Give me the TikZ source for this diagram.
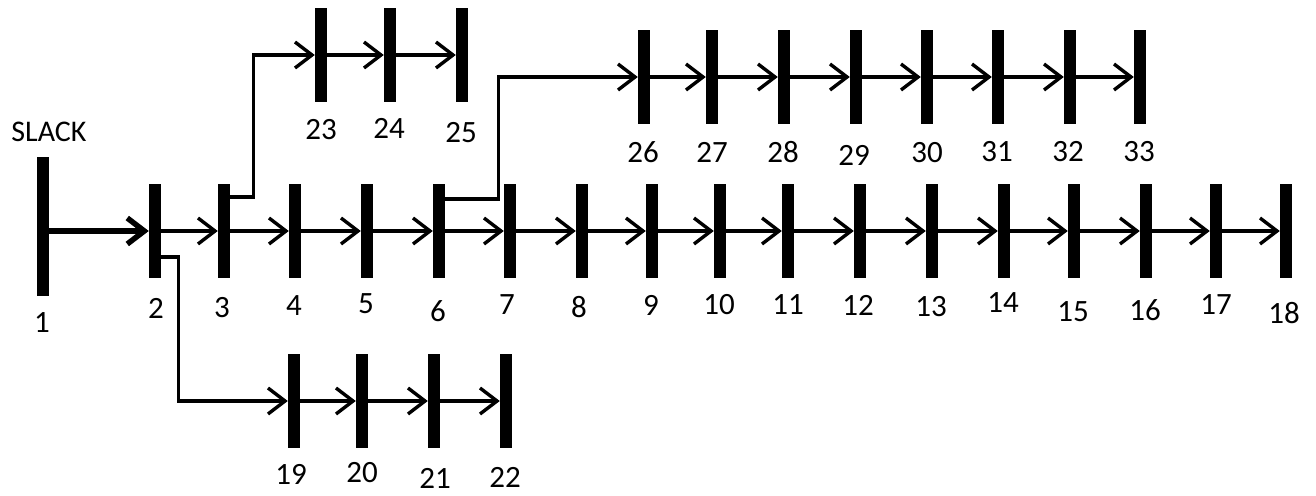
\documentclass[tikz,border=0pt]{standalone}
\usepackage{fontspec}
\setmainfont{Carlito}
\usetikzlibrary{arrows.meta}
\begin{document}
\begin{tikzpicture}[
    x=1pt, y=-1pt,
    bus/.style={fill=black, inner sep=0pt, minimum width=12pt, minimum height=94pt},
    num/.style={inner sep=0pt, font=\fontsize{31}{31}\selectfont},
    flow/.style={line width=3.4pt, -{Straight Barb[length=17pt,width=26pt]}},
    feeder/.style={flow, line join=miter}
  ]
  \useasboundingbox (0,0) rectangle (1316,495);
  % Slack bus
  \node[bus, minimum height=139pt] (b1) at (43,226) {};
  \node[num, font=\fontsize{30}{30}\selectfont] (slack) at (49,132) {SLACK};
  % Main feeder
  \foreach \n/\x in {2/155,3/224,4/295,5/367,6/439,7/510,8/582,9/652,10/720,
                     11/788,12/860,13/932,14/1004,15/1074,16/1146,17/1216,18/1286}
    \node[bus] (b\n) at (\x,231) {};
  % Laterals
  \foreach \n/\x in {19/294,20/362,21/434,22/506}
    \node[bus] (b\n) at (\x,401) {};
  \foreach \n/\x in {23/321,24/390,25/462}
    \node[bus] (b\n) at (\x,55) {};
  \foreach \n/\x in {26/644,27/712,28/784,29/856,30/927,31/998,32/1070,33/1140}
    \node[bus] (b\n) at (\x,77) {};
  % Bus numbers
  \foreach \n/\x/\y in {1/42/323,2/156/308,3/222/308,4/294/306,5/366/304,6/438/311,
                        7/507/305,8/579/307,9/651/305,10/719/305,11/788/305,12/858/305,
                        13/931/307,14/1003/303,15/1073/312,16/1145/310,17/1216/305,18/1284/313,
                        19/291/474,20/362/473,21/435/478,22/505/477,
                        23/321/130,24/389/128,25/461/133,
                        26/643/152,27/712/152,28/783/152,29/854/155,
                        30/927/153,31/997/152,32/1068/152,33/1139/152}
    \node[num] (l\n) at (\x,\y) {\n};
  % Lines
  \draw[flow, line width=5.5pt] (b1.east |- b2) -- (b2.west);
  \foreach \n [remember=\n as \p (initially 2)] in {3,...,18}
    \draw[flow] (b\p.east) -- (b\n.west);
  \foreach \n [remember=\n as \p (initially 19)] in {20,21,22}
    \draw[flow] (b\p.east) -- (b\n.west);
  \foreach \n [remember=\n as \p (initially 23)] in {24,25}
    \draw[flow] (b\p.east) -- (b\n.west);
  \foreach \n [remember=\n as \p (initially 26)] in {27,...,33}
    \draw[flow] (b\p.east) -- (b\n.west);
  \draw[feeder] ([yshift=-26pt]b2.east) -- ++(17,0) |- (b19.west);
  \draw[feeder] ([yshift=34pt]b3.east) -- ++(23,0) |- (b23.west);
  \draw[feeder] ([yshift=32pt]b6.east) -- ++(53,0) |- (b26.west);
\end{tikzpicture}
\end{document}
